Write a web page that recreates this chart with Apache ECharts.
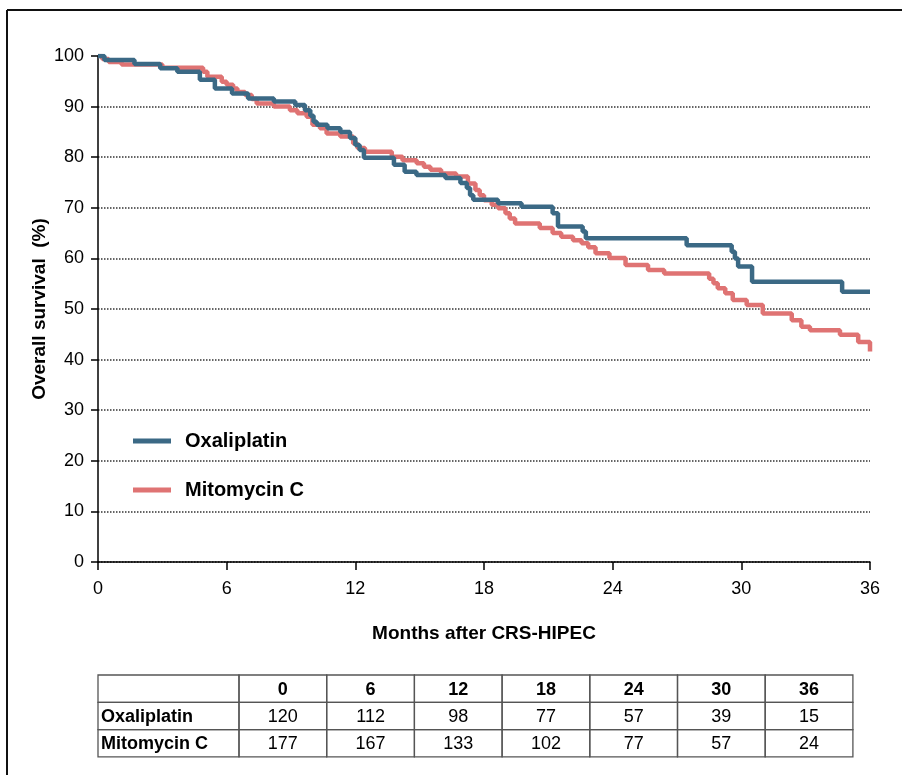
<!DOCTYPE html>
<html>
<head>
<meta charset="utf-8">
<script src="https://cdn.jsdelivr.net/npm/echarts@6/dist/echarts.min.js"></script>
<style>
  html, body { margin: 0; padding: 0; background: #fff; }
  #km { width: 902px; height: 775px; }
</style>
</head>
<body>
<div id="km"></div>
<script>
// 生存曲线数据（月, %）
const oxaliTime = [0, 0.3, 1.7, 2.9, 3.7, 4.75, 5.45, 6.25, 7.0, 8.2, 9.2, 9.65, 9.9, 10.05, 10.2, 10.7, 11.3, 11.75, 12.0, 12.2, 12.4, 13.8, 14.3, 14.85, 16.2, 16.9, 17.2, 17.35, 17.5, 18.65, 19.75, 21.2, 21.45, 22.6, 22.75, 27.45, 29.55, 29.7, 29.85, 30.5, 34.7, 36];
const oxaliSurv = [100, 99.2, 98.4, 97.6, 96.9, 95.3, 93.6, 92.6, 91.6, 91.0, 90.3, 89.3, 88.2, 87.0, 86.4, 85.7, 85.0, 83.8, 82.4, 81.4, 79.9, 78.5, 77.1, 76.5, 75.9, 74.9, 73.9, 72.5, 71.6, 70.9, 70.2, 68.9, 66.3, 65.3, 64.0, 62.6, 61.3, 60.0, 58.4, 55.4, 53.4, 53.4];

const mitoTime = [0, 0.2, 0.5, 1.1, 3.0, 4.9, 5.1, 5.77, 6.0, 6.3, 6.5, 6.86, 7.17, 7.4, 8.2, 8.95, 9.3, 9.73, 10.0, 10.35, 10.66, 11.3, 11.9, 12.1, 12.45, 13.7, 14.2, 14.86, 15.2, 15.5, 16.0, 16.7, 17.25, 17.6, 17.8, 18.0, 18.36, 18.66, 19.0, 19.2, 19.45, 20.6, 21.2, 21.6, 22.15, 22.55, 22.86, 23.2, 23.85, 24.6, 25.65, 26.4, 28.5, 28.7, 28.9, 29.25, 29.6, 30.25, 31.0, 32.35, 32.8, 33.2, 34.6, 35.45, 36, 36];
const mitoSurv = [100, 99.4, 98.8, 98.3, 97.7, 96.9, 95.9, 94.9, 94.3, 93.6, 92.9, 92.3, 91.5, 90.6, 90.0, 89.3, 88.7, 88.0, 86.4, 85.7, 84.7, 84.1, 82.7, 81.8, 81.1, 80.1, 79.4, 78.8, 78.1, 77.5, 76.8, 76.2, 74.8, 73.5, 72.5, 71.5, 70.6, 69.9, 68.9, 67.9, 66.9, 66.0, 65.0, 64.3, 63.6, 63.0, 62.2, 61.0, 60.1, 58.7, 57.7, 57.0, 56.0, 55.1, 54.1, 53.1, 51.8, 50.8, 49.1, 47.8, 46.5, 45.8, 44.9, 43.5, 43.5, 41.6];

// 风险人数表
const riskMonths = ['0', '6', '12', '18', '24', '30', '36'];
const riskGroups = ['Oxaliplatin', 'Mitomycin C'];
const oxaliRisk = [120, 112, 98, 77, 57, 39, 15];
const mitoRisk = [177, 167, 133, 102, 77, 57, 24];

const blue = '#3b6985';
const red = '#df7373';
const font = 'Liberation Sans, Arial, sans-serif';

function pairs(ts, ss) {
  return ts.map((t, i) => [t, ss[i]]);
}

// 表格 graphic
function buildTable() {
  const left = 98, top = 675, firstW = 141, colW = 87.7, rowH = 27.3;
  const rows = [[''].concat(riskMonths), [riskGroups[0]].concat(oxaliRisk), [riskGroups[1]].concat(mitoRisk)];
  const els = [];
  rows.forEach((row, r) => {
    row.forEach((cell, c) => {
      const x = c === 0 ? left : left + firstW + colW * (c - 1);
      const w = c === 0 ? firstW : colW;
      const y = top + rowH * r;
      els.push({
        type: 'rect',
        shape: { x: x, y: y, width: w, height: rowH },
        style: { fill: 'none', stroke: '#555', lineWidth: 1.3 }
      });
      if (cell !== '') {
        const bold = r === 0 || c === 0;
        els.push({
          type: 'text',
          x: c === 0 ? x + 3 : x + w / 2,
          y: y + rowH / 2 + 1,
          style: {
            text: String(cell),
            font: (bold ? 'bold ' : '') + '18px ' + font,
            fill: '#000',
            align: c === 0 ? 'left' : 'center',
            verticalAlign: 'middle'
          }
        });
      }
    });
  });
  return els;
}

const chart = echarts.init(document.getElementById('km'));
const option = {
  backgroundColor: '#fff',
  animation: false,
  grid: { left: 98, right: 32, top: 56, bottom: 213 },
  legend: {
    orient: 'vertical',
    left: 128,
    top: 426,
    itemWidth: 38,
    itemHeight: 5,
    itemGap: 29,
    icon: 'rect',
    data: ['Oxaliplatin', 'Mitomycin C'],
    textStyle: { fontFamily: font, fontSize: 20, fontWeight: 'bold', color: '#000', padding: [0, 0, 0, 9] }
  },
  xAxis: {
    type: 'value',
    min: 0, max: 36, interval: 6,
    name: 'Months after CRS-HIPEC',
    nameLocation: 'middle',
    nameGap: 62,
    nameMoveOverlap: false,
    nameTextStyle: { fontFamily: font, fontSize: 19, fontWeight: 'bold', color: '#000' },
    axisLine: { lineStyle: { color: '#000', width: 1.5 } },
    axisTick: { length: 8, lineStyle: { color: '#000', width: 1.5 } },
    axisLabel: { fontFamily: font, fontSize: 18, color: '#000', margin: 18 },
    splitLine: { show: false }
  },
  yAxis: {
    type: 'value',
    min: 0, max: 100, interval: 10,
    name: 'Overall survival  (%)',
    nameLocation: 'middle',
    nameGap: 49,
    nameMoveOverlap: false,
    nameTextStyle: { fontFamily: font, fontSize: 19, fontWeight: 'bold', color: '#000' },
    axisLine: { show: true, lineStyle: { color: '#000', width: 1.5 } },
    axisTick: { show: true, length: 7, lineStyle: { color: '#000', width: 1.5 } },
    axisLabel: { fontFamily: font, fontSize: 18, color: '#000', margin: 14 },
    splitLine: { show: true, showMaxLine: false, lineStyle: { type: 'dotted', color: '#333', width: 1.5 } }
  },
  series: [
    {
      name: 'Mitomycin C',
      type: 'line',
      step: 'end',
      symbol: 'none',
      data: pairs(mitoTime, mitoSurv),
      lineStyle: { color: red, width: 4.5 },
      itemStyle: { color: red }
    },
    {
      name: 'Oxaliplatin',
      type: 'line',
      step: 'end',
      symbol: 'none',
      data: pairs(oxaliTime, oxaliSurv),
      lineStyle: { color: blue, width: 4.5 },
      itemStyle: { color: blue }
    }
  ],
  graphic: [
    { type: 'line', shape: { x1: 7, y1: 10, x2: 902, y2: 10 }, style: { stroke: '#111', lineWidth: 2 } },
    { type: 'line', shape: { x1: 7, y1: 10, x2: 7, y2: 775 }, style: { stroke: '#111', lineWidth: 2 } }
  ].concat(buildTable())
};
chart.setOption(option);
</script>
</body>
</html>
